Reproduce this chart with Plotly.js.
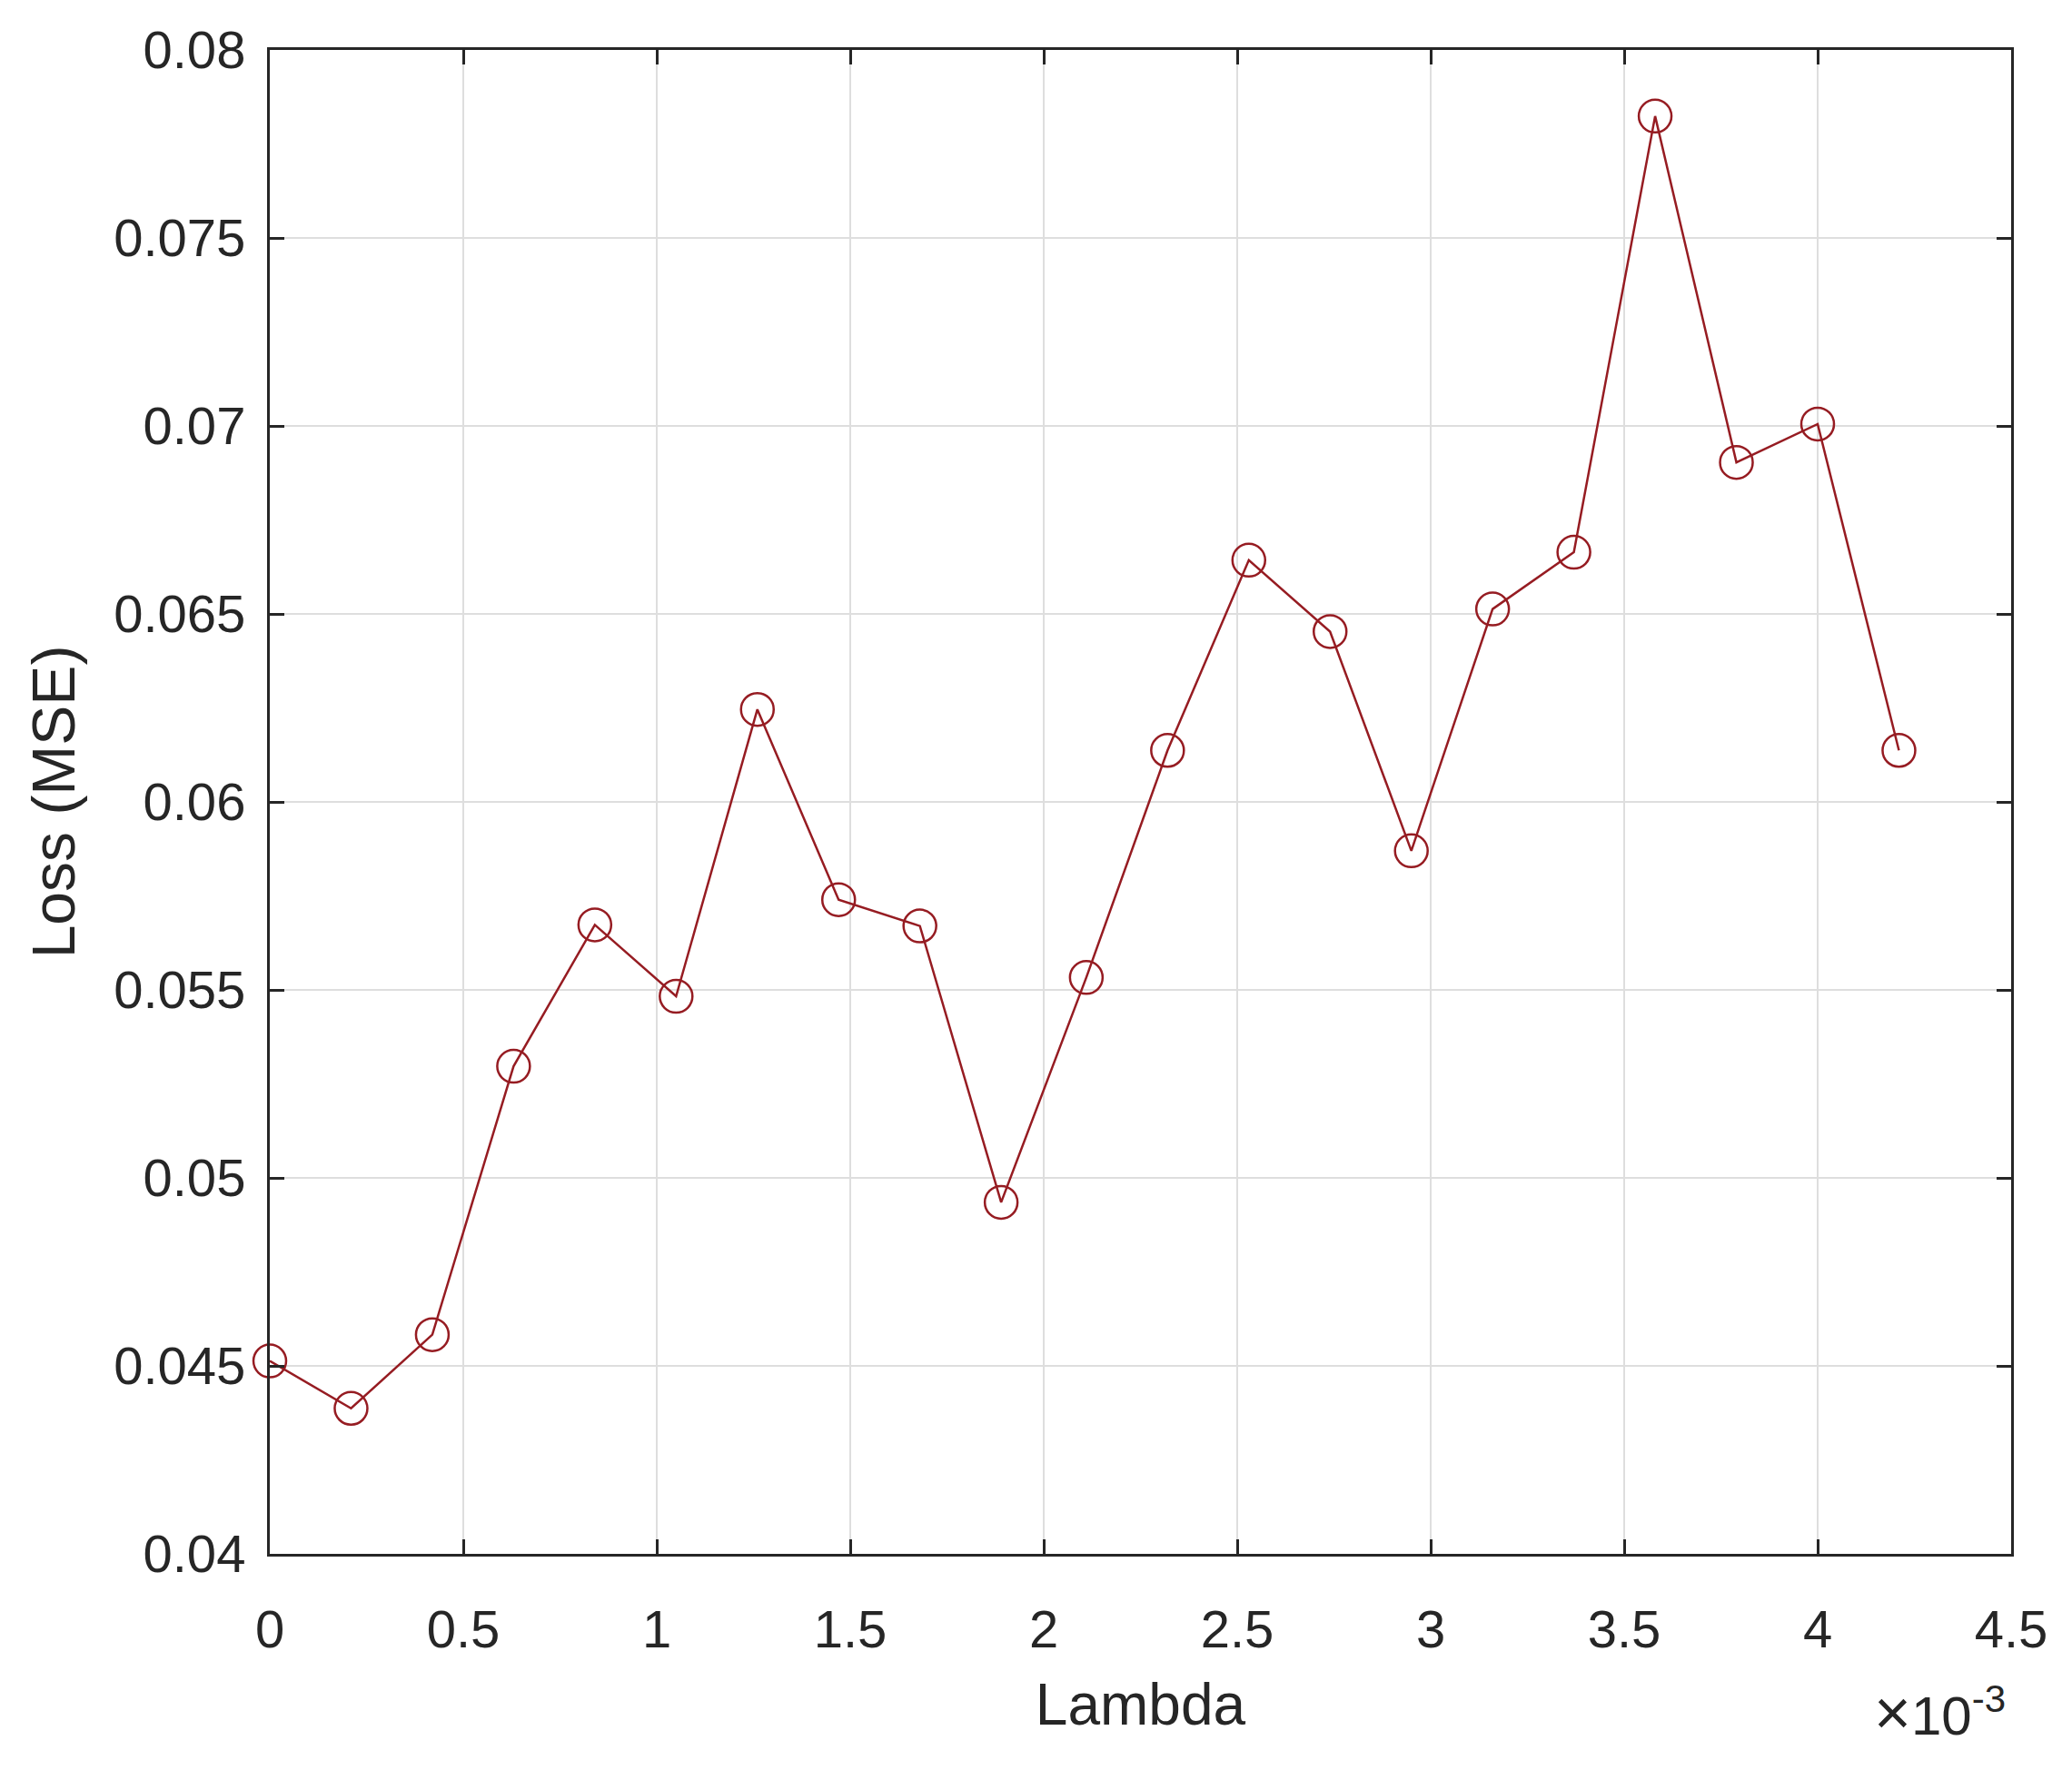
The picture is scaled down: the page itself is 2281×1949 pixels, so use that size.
<!DOCTYPE html>
<html>
<head>
<meta charset="utf-8">
<script src="https://cdn.plot.ly/plotly-3.0.1.min.js"></script>
<style>
  html, body { margin: 0; padding: 0; background: #fff; }
  #chart { width: 2281px; height: 1949px; }
</style>
</head>
<body>
<div id="chart"></div>
<script>
  // lambda in units of 1e-3 (axis shows x10^-3)
  const lambdaE3 = [0, 0.21, 0.42, 0.63, 0.84, 1.05, 1.26, 1.47, 1.68, 1.89, 2.11,
                    2.32, 2.53, 2.74, 2.95, 3.16, 3.37, 3.58, 3.79, 4.0, 4.21];
  const lossMSE = [0.04513, 0.04387, 0.04583, 0.05297, 0.05673, 0.05483, 0.06246,
                   0.0574, 0.0567, 0.04935, 0.05533, 0.06137, 0.06643, 0.06453,
                   0.0587, 0.06513, 0.06664, 0.07824, 0.06903, 0.07005, 0.06137];

  const xLabel = 'Lambda';
  const yLabel = 'Loss (MSE)';
  const xExponent = '<span style="font-size:70px">×</span>10<sup>-3</sup>';

  const red = '#961c22';
  const ink = '#262626';
  const gridCol = '#dedede';

  const trace = {
    x: lambdaE3,
    y: lossMSE,
    type: 'scatter',
    mode: 'lines+markers',
    line: { color: red, width: 2.5 },
    marker: { symbol: 'circle-open', size: 36, color: red, line: { color: red, width: 2.5 } },
    cliponaxis: false,
    hoverinfo: 'x+y'
  };

  const axisBase = {
    showline: true,
    mirror: 'ticks',
    linecolor: ink,
    linewidth: 3,
    ticks: 'inside',
    ticklen: 16,
    tickwidth: 3,
    tickcolor: ink,
    showgrid: true,
    gridcolor: gridCol,
    gridwidth: 2,
    zeroline: false,
    tickfont: { family: 'Liberation Sans, Arial, sans-serif', size: 58, color: ink }
  };

  const layout = {
    width: 2281,
    height: 1949,
    paper_bgcolor: '#fff',
    plot_bgcolor: '#fff',
    showlegend: false,
    margin: { l: 297, r: 67, t: 55, b: 238 },
    xaxis: Object.assign({}, axisBase, {
      range: [0, 4.5],
      dtick: 0.5,
      tick0: 0,
      ticklabelstandoff: 30,
      title: { text: xLabel, standoff: 30,
               font: { family: 'Liberation Sans, Arial, sans-serif', size: 64, color: ink } }
    }),
    yaxis: Object.assign({}, axisBase, {
      range: [0.04, 0.08],
      dtick: 0.005,
      tick0: 0.04,
      ticklabelstandoff: 12,
      title: { text: yLabel, standoff: 22,
               font: { family: 'Liberation Sans, Arial, sans-serif', size: 66, color: ink } }
    }),
    annotations: [{
      text: xExponent,
      xref: 'paper', yref: 'paper',
      x: 1, y: 0,
      xanchor: 'right', yanchor: 'top',
      xshift: -4,
      yshift: -134,
      showarrow: false,
      font: { family: 'Liberation Sans, Arial, sans-serif', size: 60, color: ink }
    }]
  };

  Plotly.newPlot('chart', [trace], layout, { displayModeBar: false, responsive: false });
</script>
</body>
</html>
